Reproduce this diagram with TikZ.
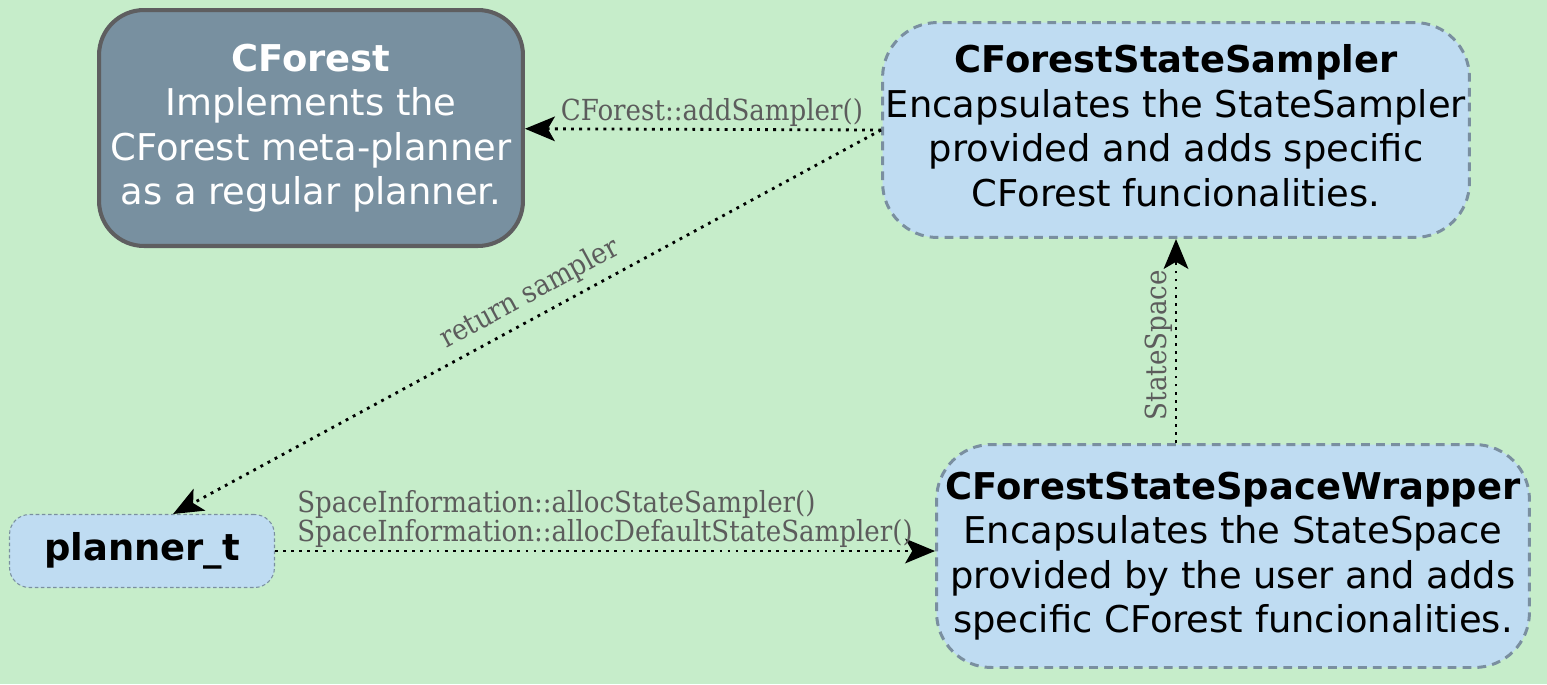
\documentclass[tikz,border=0pt]{standalone}
\usepackage{fontspec}
\setmainfont{DejaVu Sans}
\newfontfamily\labelfont[FakeStretch=0.9]{DejaVu Serif}
\usepackage{tikz}
\usetikzlibrary{arrows.meta}
\usetikzlibrary{positioning}
\definecolor{bggreen}{HTML}{C6EDCA}
\definecolor{slate}{HTML}{7890A0}
\definecolor{slateborder}{HTML}{5E5E60}
\definecolor{paleblue}{HTML}{BFDCF2}
\definecolor{dashgray}{HTML}{7A8FA0}
\definecolor{labelgray}{HTML}{5C5C5C}

\begin{document}
\begin{tikzpicture}[x=0.02cm,y=-0.02cm,
	box_node/.style={rounded corners=1.1cm,align=center,font=\fontsize{21}{25.3}\selectfont,inner sep=0pt},
	main_node/.style={box_node,fill=slate,draw=slateborder,line width=2.3pt,text=white,rounded corners=0.9cm},
	wrap_node/.style={box_node,fill=paleblue,draw=dashgray,line width=1.7pt,dash pattern=on 5pt off 3.5pt},
	small_node/.style={box_node,fill=paleblue,draw=dashgray,line width=0.6pt,dash pattern=on 2pt off 1.5pt,rounded corners=0.4cm},
	link/.style={line width=1.6pt,dash pattern=on 1.6pt off 3pt,-{Stealth[length=17pt,width=14pt,inset=4pt]}},
	lbl/.style={font=\labelfont\fontsize{16.5}{15.5}\selectfont,text=labelgray,inner sep=1.5pt}]
	\useasboundingbox (0,0) rectangle (1547,684);
	\fill[bggreen] (0,0) rectangle (1547,684);
	\node[main_node,minimum width=8.48cm,minimum height=4.72cm](1) at (311,128)
		{\textbf{CForest}\\Implements the\\CForest meta-planner\\as a regular planner.};
	\node[wrap_node,minimum width=11.74cm,minimum height=4.3cm](2) at (1176,130)
		{\textbf{CForestStateSampler}\\Encapsulates the StateSampler\\provided and adds specific\\CForest funcionalities.\\[-20pt]};
	\node[wrap_node,minimum width=11.86cm,minimum height=4.46cm](3) at (1233,556)
		{\textbf{CForestStateSpaceWrapper}\\Encapsulates the StateSpace\\provided by the user and adds\\specific CForest funcionalities.};
	\node[small_node,minimum width=5.3cm,minimum height=1.46cm](4) at (142,551)
		{\textbf{planner\_t}};
	\path[every node/.style={lbl}]
	(2.west) edge[link] node[above,pos=0.475,inner sep=1pt] {CForest::addSampler()} (1)
	(2.west) edge[link] node[above,sloped,pos=0.48,inner sep=4.5pt] {return sampler} (4.50)
	(4.east) edge[link] node[above,align=left,inner sep=1pt] {SpaceInformation::allocStateSampler()\\SpaceInformation::allocDefaultStateSampler()} (3.west |- 4.east)
	(3.north -| 2.south) edge[link] node[above,sloped,pos=0.48,inner sep=1pt] {StateSpace} (2.south);
\end{tikzpicture}
\end{document}
